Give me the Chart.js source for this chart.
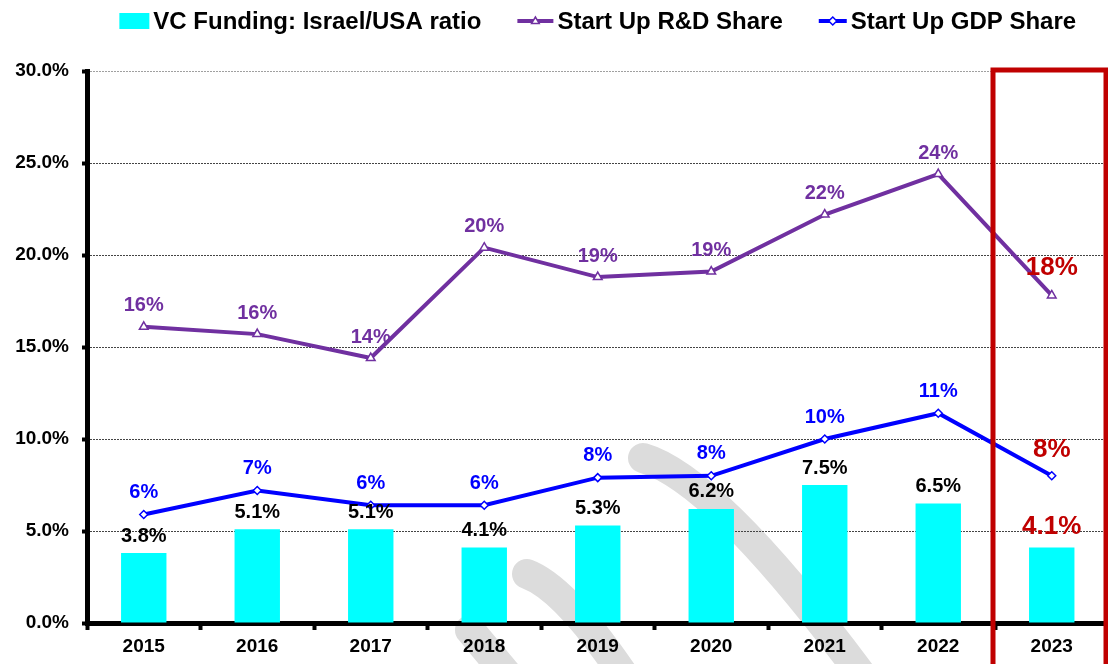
<!DOCTYPE html>
<html>
<head>
<meta charset="utf-8">
<script src="https://cdn.jsdelivr.net/npm/chart.js@4.4.1/dist/chart.umd.min.js"></script>
<style>
  html, body { margin: 0; padding: 0; background: #fff; overflow: hidden; }
  #wrap { width: 1108px; height: 664px; overflow: hidden; }
</style>
</head>
<body>
<div id="wrap"><canvas id="grafico" width="1115" height="664"></canvas></div>
<script>
// datos del grafico
var years = ["2015", "2016", "2017", "2018", "2019", "2020", "2021", "2022", "2023"];
var vcRatio = [3.8, 5.1, 5.1, 4.1, 5.3, 6.2, 7.5, 6.5, 4.1];
var rdShare = [16.1, 15.7, 14.4, 20.4, 18.8, 19.1, 22.2, 24.4, 17.8];
var gdpShare = [5.9, 7.2, 6.4, 6.4, 7.9, 8.0, 10.0, 11.4, 8.0];
var yTicks = [0, 5, 10, 15, 20, 25, 30];

var FONT = '"Liberation Sans", Arial, sans-serif';
var PURPLE = "#7030A0", BLUE = "#0000FF", CYAN = "#00FFFF", RED = "#C00000";

function marker(ctx, style, x, y, r, color) {
  ctx.save();
  ctx.beginPath();
  if (style === "triangle") {
    ctx.moveTo(x, y - r);
    ctx.lineTo(x + r * 0.95, y + r * 0.6);
    ctx.lineTo(x - r * 0.95, y + r * 0.6);
  } else {
    ctx.moveTo(x, y - r); ctx.lineTo(x + r, y); ctx.lineTo(x, y + r); ctx.lineTo(x - r, y);
  }
  ctx.closePath();
  ctx.fillStyle = "#fff"; ctx.fill();
  ctx.lineWidth = 1.5; ctx.strokeStyle = color; ctx.stroke();
  ctx.restore();
}

// marca de agua gris de fondo
var watermark = {
  id: "watermark",
  beforeDraw: function(chart) {
    var ctx = chart.ctx;
    ctx.save();
    ctx.strokeStyle = "#dcdcdc";
    ctx.lineWidth = 30;
    ctx.lineCap = "round";
    ctx.beginPath(); ctx.moveTo(470, 630); ctx.lineTo(520, 690); ctx.stroke();
    ctx.beginPath(); ctx.moveTo(527, 574); ctx.quadraticCurveTo(570, 590, 640, 700); ctx.stroke();
    ctx.beginPath(); ctx.moveTo(643, 458); ctx.quadraticCurveTo(720, 480, 880, 700); ctx.stroke();
    ctx.restore();
  }
};

// leyenda dibujada a mano
var leyenda = {
  id: "leyenda",
  afterDraw: function(chart) {
    var ctx = chart.ctx, area = chart.chartArea;
    var items = [
      { text: chart.data.datasets[0].label, kind: "box", color: CYAN, w: 30 },
      { text: chart.data.datasets[1].label, kind: "triangle", color: PURPLE, w: 36 },
      { text: chart.data.datasets[2].label, kind: "diamond", color: BLUE, w: 28 }
    ];
    ctx.save();
    ctx.font = "bold 24px " + FONT;
    var gapText = 4, gapItem = 36, total = 0;
    items.forEach(function(it, i) {
      it.tw = ctx.measureText(it.text).width;
      total += it.w + gapText + it.tw + (i ? gapItem : 0);
    });
    var x = (area.left + area.right) / 2 - total / 2, cy = 21;
    items.forEach(function(it) {
      if (it.kind === "box") {
        ctx.fillStyle = it.color; ctx.fillRect(x, cy - 8, it.w, 16);
      } else {
        ctx.strokeStyle = it.color; ctx.lineWidth = 4;
        ctx.beginPath(); ctx.moveTo(x, cy); ctx.lineTo(x + it.w, cy); ctx.stroke();
        marker(ctx, it.kind, x + it.w / 2, cy, 4, it.color);
      }
      ctx.fillStyle = "#000"; ctx.textAlign = "left"; ctx.textBaseline = "middle";
      ctx.fillText(it.text, x + it.w + gapText, cy + 1);
      x += it.w + gapText + it.tw + gapItem;
    });
    ctx.restore();
  }
};

// etiquetas de valores
var etiquetas = {
  id: "etiquetas",
  afterDatasetsDraw: function(chart) {
    var ctx = chart.ctx;
    ctx.save();
    ctx.textAlign = "center"; ctx.textBaseline = "middle";
    chart.data.datasets.forEach(function(ds, i) {
      var meta = chart.getDatasetMeta(i);
      meta.data.forEach(function(el, j) {
        var last = j === ds.data.length - 1;
        var v = ds.data[j];
        var txt = ds.type === "bar" ? v.toFixed(1) + "%" : Math.round(v) + "%";
        ctx.font = "bold " + (last ? 26 : 20) + "px " + FONT;
        ctx.fillStyle = last ? RED : ds.labelColor;
        ctx.fillText(txt, el.x, el.y - (last ? ds.lastOffset : ds.labelOffset));
      });
    });
    ctx.restore();
  }
};

// recuadro rojo sobre 2023
var recuadro = {
  id: "recuadro",
  afterDraw: function(chart) {
    var ctx = chart.ctx, xs = chart.scales.x, area = chart.chartArea;
    var n = years.length - 1;
    var left = (xs.getPixelForValue(n - 1) + xs.getPixelForValue(n)) / 2 - 2;
    ctx.save();
    ctx.strokeStyle = RED; ctx.lineWidth = 5;
    ctx.strokeRect(left, area.top - 1, area.right - 2.5 - left, chart.height + 20 - area.top);
    ctx.restore();
  }
};

new Chart(document.getElementById("grafico"), {
  data: {
    labels: years,
    datasets: [
      {
        type: "bar",
        label: "VC Funding: Israel/USA ratio",
        data: vcRatio,
        backgroundColor: CYAN,
        barPercentage: 0.8,
        categoryPercentage: 0.5,
        labelColor: "#000", labelOffset: 17, lastOffset: 21,
        order: 3
      },
      {
        type: "line",
        label: "Start Up R&D Share",
        data: rdShare,
        borderColor: PURPLE, borderWidth: 4,
        pointStyle: "triangle", pointRadius: 5,
        pointBackgroundColor: "#fff", pointBorderColor: PURPLE, pointBorderWidth: 1.5,
        tension: 0, fill: false,
        labelColor: PURPLE, labelOffset: 21, lastOffset: 28,
        order: 1
      },
      {
        type: "line",
        label: "Start Up GDP Share",
        data: gdpShare,
        borderColor: BLUE, borderWidth: 4,
        pointStyle: "rectRot", pointRadius: 4,
        pointBackgroundColor: "#fff", pointBorderColor: BLUE, pointBorderWidth: 1.5,
        tension: 0, fill: false,
        labelColor: BLUE, labelOffset: 22, lastOffset: 26,
        order: 2
      }
    ]
  },
  options: {
    responsive: false,
    animation: false,
    layout: { padding: { top: 71, left: 0, right: 0, bottom: 0 } },
    plugins: { legend: { display: false }, tooltip: { enabled: false } },
    scales: {
      x: {
        afterFit: function(s) { s.height = 41; },
        grid: { display: true, offset: true, drawOnChartArea: false, drawTicks: true,
                tickLength: 7, tickWidth: 4, tickColor: "#000" },
        border: { display: true, color: "#000", width: 5 },
        ticks: { color: "#000", font: { family: FONT, size: 19, weight: "bold" }, padding: 5 }
      },
      y: {
        min: 0, max: 30,
        afterFit: function(s) { s.width = 87; },
        afterBuildTicks: function(s) { s.ticks = yTicks.map(function(v) { return { value: v }; }); },
        grid: {
          color: function(c) { return c.tick && c.tick.value === 30 ? "#a0a0a0" : "#444"; },
          lineWidth: 1, drawTicks: true, tickLength: 5, tickWidth: 4, tickColor: "#000"
        },
        border: { display: true, color: "#000", width: 5, dash: [2, 1] },
        ticks: {
          color: "#000", padding: 13,
          font: { family: FONT, size: 19, weight: "bold" },
          callback: function(v) { return v.toFixed(1) + "%"; }
        }
      }
    }
  },
  plugins: [watermark, etiquetas, recuadro, leyenda]
});
</script>
</body>
</html>
